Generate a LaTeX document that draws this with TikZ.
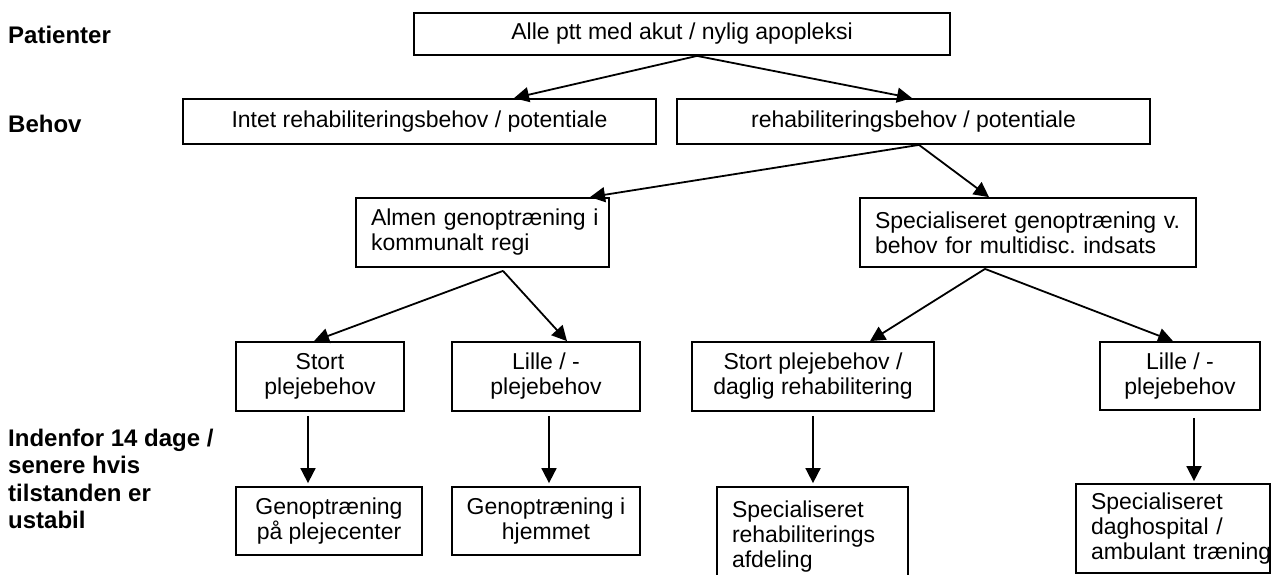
\documentclass[tikz,border=0pt]{standalone}
\usepackage{fontspec}
\setmainfont{Liberation Sans}
\usetikzlibrary{arrows.meta}
\begin{document}
\frenchspacing
\hyphenpenalty=10000
\exhyphenpenalty=10000
\begin{tikzpicture}[x=1pt,y=-1pt,
  box/.style={draw, line width=1.8pt, inner sep=0pt, font=\fontsize{23}{25}\selectfont},
  cbox/.style={box, align=center},
  lbox/.style={box, align=left, inner xsep=15pt},
  lab/.style={anchor=west, align=left, inner sep=0pt, font=\fontsize{24}{27.3}\selectfont\bfseries},
  arr/.style={line width=1.8pt, -{Triangle[length=15pt,width=15pt]}}]
\useasboundingbox (0,0) rectangle (1273,574);

% row labels
\node[lab] (lpat) at (8,35) {Patienter};
\node[lab] (lbeh) at (8,124) {Behov};
\node[lab] (lind) at (8,479) {Indenfor 14 dage /\\senere hvis\\tilstanden er\\ustabil};

% boxes
\node[cbox, minimum width=536, minimum height=42] (top) at (682,34) {Alle ptt med akut / nylig apopleksi};
\node[cbox, minimum width=473, minimum height=45] (intet) at (419.5,121.5) {Intet rehabiliteringsbehov / potentiale};
\node[cbox, minimum width=473, minimum height=45] (rehab) at (913.5,121.5) {rehabiliteringsbehov / potentiale};
\node[lbox, text width=223, minimum height=69] (almen) at (482.5,232.5) {Almen~genoptræning~i\\kommunalt~regi};
\node[lbox, text width=306, minimum height=69] (spec) at (1028,232.5) {Specialiseret~genoptræning~v.\\behov~for~multidisc.~indsats};
\node[cbox, minimum width=168, minimum height=69] (stort) at (320,376.5) {Stort\\plejebehov};
\node[cbox, minimum width=188, minimum height=69] (lilleL) at (546,376.5) {Lille / -\\plejebehov};
\node[cbox, minimum width=242, minimum height=69] (stortd) at (813,376.5) {Stort plejebehov /\\daglig rehabilitering};
\node[cbox, minimum width=160, minimum height=68] (lilleR) at (1180,376) {Lille / -\\plejebehov};
\node[cbox, minimum width=186, minimum height=68] (genp) at (329,521) {Genoptræning\\på plejecenter};
\node[cbox, minimum width=188, minimum height=68] (genh) at (546,521) {Genoptræning i\\hjemmet};
\node[lbox, text width=161, minimum height=100] (specr) at (812.5,537) {Specialiseret\\rehabiliterings\\afdeling};
\node[lbox, text width=164, minimum height=89] (dag) at (1173,528.5) {Specialiseret\\daghospital~/\\ambulant~træning};

% connectors
\draw[arr] ([xshift=15]top.south) -- ([xshift=94.5]intet.north);
\draw[arr] ([xshift=15]top.south) -- ([xshift=-1.5]rehab.north);
\draw[arr] ([xshift=5.5]rehab.south) -- ([xshift=107.5]almen.north);
\draw[arr] ([xshift=5.5]rehab.south) -- ([xshift=-39]spec.north);
\draw[arr] ([xshift=20.5,yshift=-3]almen.south) -- ([xshift=-6]stort.north);
\draw[arr] ([xshift=20.5,yshift=-3]almen.south) -- ([xshift=21]lilleL.north);
\draw[arr] ([xshift=-43,yshift=-1]spec.south) -- ([xshift=57]stortd.north);
\draw[arr] ([xshift=-43,yshift=-1]spec.south) -- ([xshift=-7]lilleR.north);
\draw[arr] ([xshift=-12,yshift=-4]stort.south) -- ([xshift=-21,yshift=3]genp.north);
\draw[arr] ([xshift=3,yshift=-4]lilleL.south) -- ([xshift=3,yshift=3]genh.north);
\draw[arr] ([yshift=-4]stortd.south) -- ([xshift=0.5,yshift=3]specr.north);
\draw[arr] ([xshift=14,yshift=-7]lilleR.south) -- ([xshift=21,yshift=2]dag.north);
\end{tikzpicture}
\end{document}
